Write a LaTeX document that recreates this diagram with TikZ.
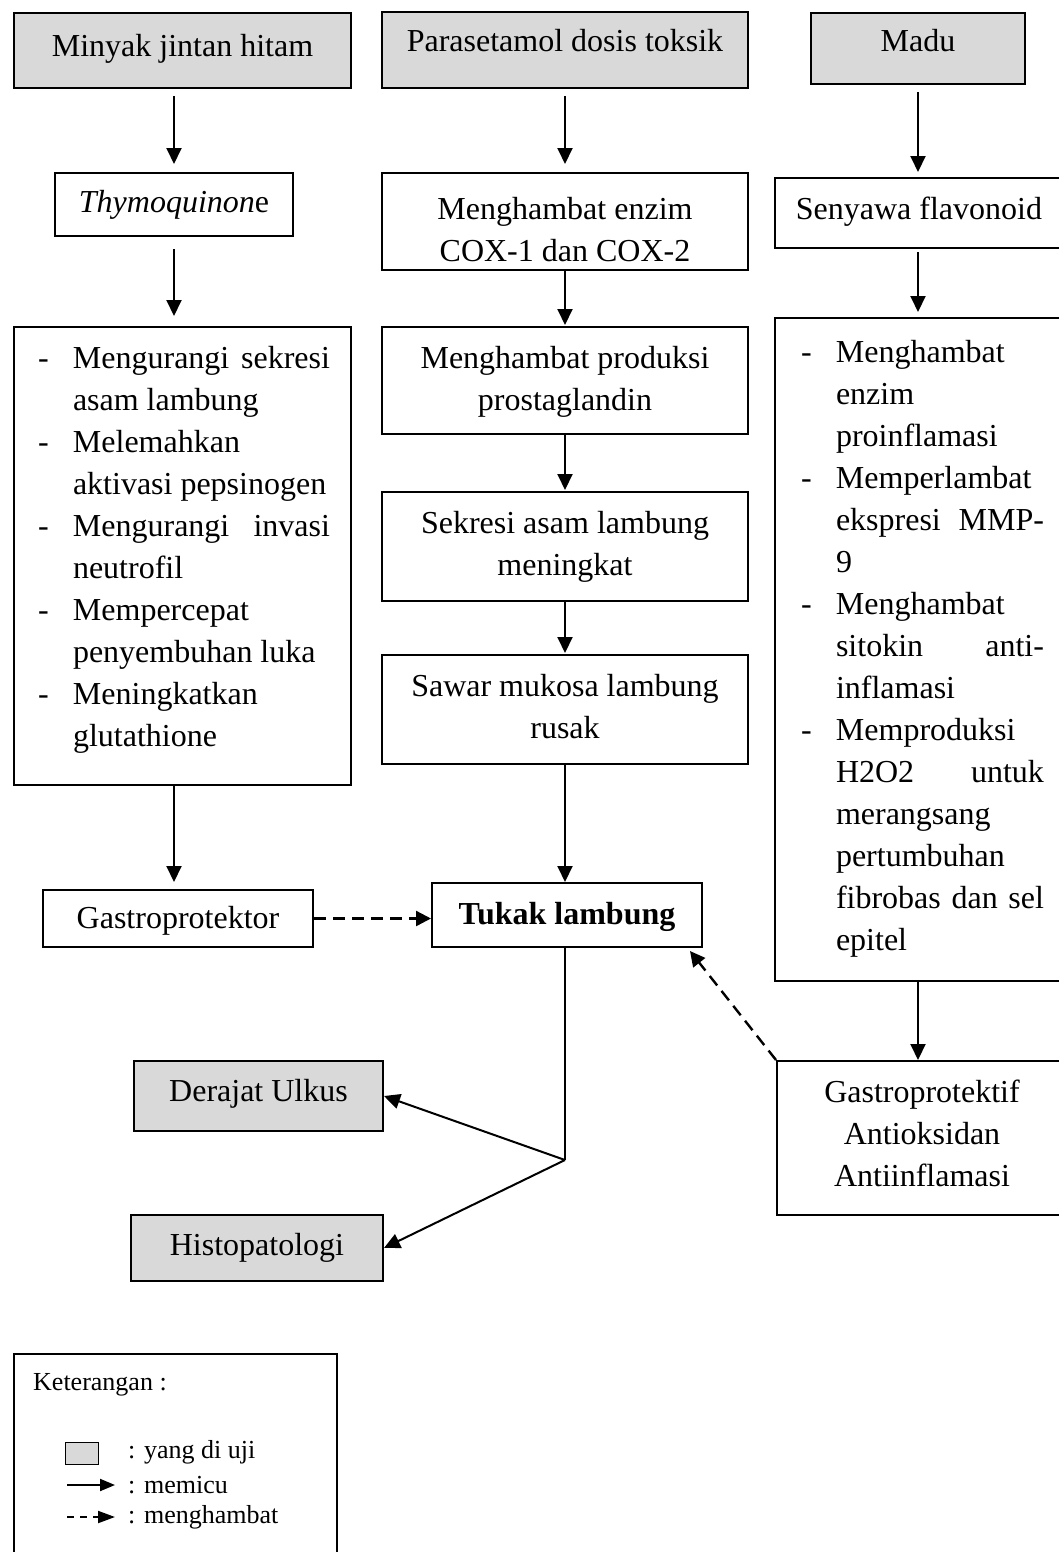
\documentclass[tikz,border=0pt]{standalone}
\usepackage{fontspec}
\setmainfont{Liberation Serif}
\usetikzlibrary{arrows.meta}
\definecolor{testgray}{HTML}{D9D9D9}
\newcommand{\cbx}[4]{\parbox[c][#2][t]{#1}{\centering\vspace*{#3}\strut#4\par}}
\newcommand{\lbx}[4]{\parbox[c][#2][t]{#1}{\raggedright\vspace*{#3}\strut#4\par}}
\newcommand{\jl}[2]{\makebox[#1][s]{#2}}
\newcommand{\la}[1]{\hspace*{24pt}\makebox[35pt][l]{-}#1}
\newcommand{\lb}[1]{\hspace*{59pt}#1}
\newcommand{\ra}[1]{\hspace*{26pt}\makebox[35pt][l]{-}#1}
\newcommand{\rb}[1]{\hspace*{61pt}#1}
\begin{document}
\begin{tikzpicture}[x=1pt,y=-1pt,
  box/.style={draw=black, line width=2pt, inner sep=0pt, anchor=north west, font=\fontsize{32}{42}\selectfont},
  tested/.style={box, fill=testgray},
  arr/.style={line width=2pt, -{Triangle[length=16pt,width=15pt]}},
  inh/.style={line width=2.4pt, dash pattern=on 12pt off 7pt, -{Triangle[length=15pt,width=15pt]}},
  ln/.style={line width=2pt},
  leg/.style={anchor=base west, inner sep=0pt, font=\fontsize{26}{31}\selectfont}]
\useasboundingbox (0,0) rectangle (1059,1552);
\clip (0,0) rectangle (1059,1552);

% top row
\node[tested] (a1) at (13,12) {\cbx{337pt}{75pt}{14.6pt}{Minyak jintan hitam}};
\node[tested] (b1) at (381,11) {\cbx{366pt}{76pt}{10.6pt}{Parasetamol dosis toksik}};
\node[tested] (c1) at (810,12) {\cbx{214pt}{71pt}{9.6pt}{Madu}};

% second row
\node[box] (a2) at (54,172) {\cbx{238pt}{63pt}{9.6pt}{\textit{Thymoquinon}e}};
\node[box] (b2) at (381,172) {\cbx{366pt}{97pt}{16.6pt}{Menghambat enzim\\COX-1 dan COX-2}};
\node[box] (c2) at (774,177) {\cbx{288pt}{70pt}{11.6pt}{Senyawa flavonoid}};

% left column list
\node[box] (a3) at (13,326) {\lbx{337pt}{458pt}{12pt}{%
\la{\jl{257pt}{Mengurangi sekresi}}\\
\lb{asam lambung}\\
\la{Melemahkan}\\
\lb{aktivasi pepsinogen}\\
\la{\jl{257pt}{Mengurangi invasi}}\\
\lb{neutrofil}\\
\la{Mempercepat}\\
\lb{penyembuhan luka}\\
\la{Meningkatkan}\\
\lb{glutathione}}};

% middle column
\node[box] (b3) at (381,326) {\cbx{366pt}{107pt}{11.6pt}{Menghambat produksi\\prostaglandin}};
\node[box] (b4) at (381,491) {\cbx{366pt}{109pt}{11.6pt}{Sekresi asam lambung\\meningkat}};
\node[box] (b5) at (381,654) {\cbx{366pt}{109pt}{11.6pt}{Sawar mukosa lambung\\rusak}};

% right column list
\node[box] (c3) at (774,317) {\lbx{292pt}{663pt}{15pt}{%
\ra{Menghambat}\\
\rb{enzim}\\
\rb{proinflamasi}\\
\ra{Memperlambat}\\
\rb{\jl{208pt}{ekspresi MMP-}}\\
\rb{9}\\
\ra{Menghambat}\\
\rb{\jl{208pt}{sitokin anti-}}\\
\rb{inflamasi}\\
\ra{Memproduksi}\\
\rb{\jl{208pt}{H2O2 untuk}}\\
\rb{merangsang}\\
\rb{pertumbuhan}\\
\rb{\jl{208pt}{fibrobas dan sel}}\\
\rb{epitel}}};

% lower row
\node[box] (gastro) at (42,889) {\cbx{270pt}{57pt}{8.6pt}{Gastroprotektor}};
\node[box] (tukak) at (431,882) {\cbx{270pt}{64pt}{12pt}{\textbf{Tukak lambung}}};
\node[box] (gpf) at (776,1060) {\cbx{290pt}{154pt}{11.6pt}{Gastroprotektif\\Antioksidan\\Antiinflamasi}};
\node[tested] (derajat) at (133,1060) {\cbx{249pt}{70pt}{10.6pt}{Derajat Ulkus}};
\node[tested] (histo) at (130,1214) {\cbx{252pt}{66pt}{10.6pt}{Histopatologi}};

% connectors
\draw[arr, shorten <=7pt, shorten >=8pt] (a2.north |- a1.south) -- (a2.north);
\draw[arr, shorten <=7pt, shorten >=8pt] (b1.south) -- (b2.north);
\draw[arr, shorten <=7pt, shorten >=5pt] (c1.south) -- (c1.south |- c2.north);
\draw[arr, shorten <=12pt, shorten >=10pt] (a2.south) -- (a2.south |- a3.north);
\draw[arr, shorten >=1pt] (b2.south) -- (b3.north);
\draw[arr, shorten <=3pt, shorten >=5pt] (c1.south |- c2.south) -- (c1.south |- c3.north);
\draw[arr, shorten >=1pt] (b3.south) -- (b4.north);
\draw[arr, shorten >=1pt] (b4.south) -- (b5.north);
\draw[arr, shorten >=7pt] (a2.south |- a3.south) -- (a2.south |- gastro.north);
\draw[arr] (b5.south) -- (b5.south |- tukak.north);
\draw[arr] (c1.south |- c3.south) -- (c1.south |- gpf.north);
\draw[inh] (gastro.east) -- (tukak.west |- gastro.east);
\draw[inh] (gpf.north west) -- ([xshift=-13pt,yshift=-3pt]tukak.south east);
\path (tukak.south) ++(-2,212) coordinate (jn);
\draw[ln] (tukak.south -| jn) -- (jn);
\draw[arr] (jn) -- (derajat.east);
\draw[arr] (jn) -- (histo.east);

% legend
\node[box, minimum width=323pt, minimum height=215pt] (legend) at (13,1353) {};
\node[leg] (lt0) at (33,1390) {Keterangan :};
\node[draw, line width=1.4pt, fill=testgray, inner sep=0pt, minimum width=33pt, minimum height=22pt, anchor=north west] (lsq) at (65,1442) {};
\node[leg] (lt1) at (128,1458) {: yang di uji};
\node[leg] (lt2) at (128,1493) {: memicu};
\node[leg] (lt3) at (128,1523) {: menghambat};
\coordinate (la1) at (67,1485);
\coordinate (la2) at (115,1485);
\coordinate (lb1) at (67,1517);
\coordinate (lb2) at (115,1517);
\draw[line width=2pt, -{Triangle[length=15pt,width=12pt]}] (la1) -- (la2);
\draw[line width=2pt, dash pattern=on 7pt off 6pt, -{Triangle[length=17pt,width=12pt]}] (lb1) -- (lb2);
\end{tikzpicture}
\end{document}
